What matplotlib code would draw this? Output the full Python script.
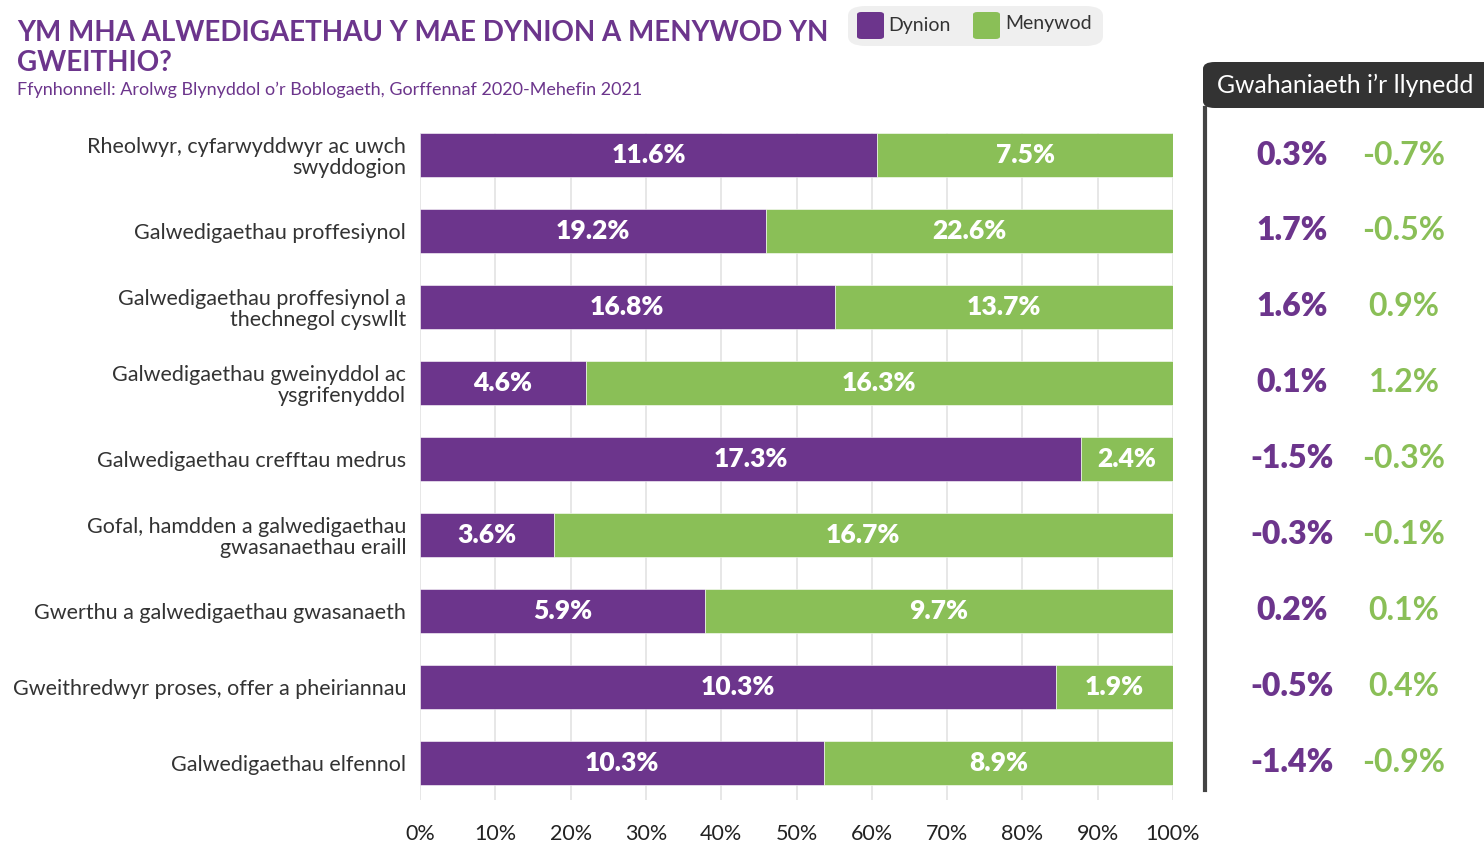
import matplotlib.pyplot as plt
import matplotlib.transforms as mtransforms
from matplotlib.patches import FancyBboxPatch
from matplotlib.lines import Line2D
import numpy as np

plt.rcParams['font.family'] = ['Lato', 'DejaVu Sans']

categories = [
    "Rheolwyr, cyfarwyddwyr ac uwch\nswyddogion",
    "Galwedigaethau proffesiynol",
    "Galwedigaethau proffesiynol a\nthechnegol cyswllt",
    "Galwedigaethau gweinyddol ac\nysgrifenyddol",
    "Galwedigaethau crefftau medrus",
    "Gofal, hamdden a galwedigaethau\ngwasanaethau eraill",
    "Gwerthu a galwedigaethau gwasanaeth",
    "Gweithredwyr proses, offer a pheiriannau",
    "Galwedigaethau elfennol",
]
men = [11.6, 19.2, 16.8, 4.6, 17.3, 3.6, 5.9, 10.3, 10.3]
women = [7.5, 22.6, 13.7, 16.3, 2.4, 16.7, 9.7, 1.9, 8.9]
men_change = [0.3, 1.7, 1.6, 0.1, -1.5, -0.3, 0.2, -0.5, -1.4]
women_change = [-0.7, -0.5, 0.9, 1.2, -0.3, -0.1, 0.1, 0.4, -0.9]

purple = '#6c358c'
green = '#8abf57'
W, H = 1484, 843

fig = plt.figure(figsize=(W / 100, H / 100), dpi=100)
ax = fig.add_axes([420 / W, 1 - 800 / H, (1173 - 420) / W, (800 - 133) / H])

men_a = np.array(men)
women_a = np.array(women)
share_m = men_a / (men_a + women_a) * 100
share_w = 100 - share_m
y = np.arange(len(categories))
bh = 0.58

ax.barh(y, share_m, height=bh, color=purple, edgecolor='white', linewidth=0.4, zorder=3)
ax.barh(y, share_w, left=share_m, height=bh, color=green, edgecolor='white', linewidth=0.4, zorder=3)

for i in range(len(y)):
    ax.text(share_m[i] / 2, y[i], f"{men[i]}%", ha='center', va='center',
            color='white', fontsize=19, fontweight='heavy', zorder=4)
    ax.text(share_m[i] + share_w[i] / 2, y[i], f"{women[i]}%", ha='center', va='center',
            color='white', fontsize=19, fontweight='heavy', zorder=4)

ax.set_xlim(0, 100)
ax.set_ylim(len(categories) - 1 + 0.49, -0.29)
ax.set_xticks(np.arange(0, 101, 10))
ax.set_xticklabels([f"{v}%" for v in range(0, 101, 10)], fontsize=15.5, color='#222222')
ax.set_yticks(y)
ax.set_yticklabels(categories, fontsize=15.5, color='#333333', linespacing=1.05)
ax.tick_params(axis='x', length=0, pad=17)
ax.tick_params(axis='y', length=0, pad=10)
ax.grid(axis='x', color='#e3e3e3', linewidth=1.2, zorder=0)
ax.set_axisbelow(True)
for s in ax.spines.values():
    s.set_visible(False)

# titles
fig.text(17 / W, 1 - 48 / H, "YM MHA ALWEDIGAETHAU Y MAE DYNION A MENYWOD YN\nGWEITHIO?",
         ha='left', va='center', fontsize=20, fontweight='bold', color=purple, linespacing=1.15)
fig.text(17 / W, 1 - 90 / H, "Ffynhonnell: Arolwg Blynyddol o\u2019r Boblogaeth, Gorffennaf 2020-Mehefin 2021",
         ha='left', va='center', fontsize=13, color=purple)

# legend box
fig.patches.append(FancyBboxPatch((848 / W, 1 - 46 / H), 255 / W, 40 / H,
                                  boxstyle='round,pad=0,rounding_size=0.012',
                                  transform=fig.transFigure, facecolor='#efefef',
                                  edgecolor='none'))
fig.patches.append(FancyBboxPatch((857 / W, 1 - 39 / H), 27 / W, 27 / H,
                                  boxstyle='round,pad=0,rounding_size=0.003',
                                  transform=fig.transFigure, facecolor=purple, edgecolor='none'))
fig.patches.append(FancyBboxPatch((973 / W, 1 - 39 / H), 27 / W, 27 / H,
                                  boxstyle='round,pad=0,rounding_size=0.003',
                                  transform=fig.transFigure, facecolor=green, edgecolor='none'))
fig.text(888 / W, 1 - 26 / H, "Dynion", ha='left', va='center', fontsize=14, color='#333333')
fig.text(1005 / W, 1 - 24 / H, "Menywod", ha='left', va='center', fontsize=14, color='#333333')

# right panel header
fig.patches.append(FancyBboxPatch((1203 / W, 1 - 108 / H), 300 / W, 46 / H,
                                  boxstyle='round,pad=0,rounding_size=0.008',
                                  transform=fig.transFigure, facecolor='#333333',
                                  edgecolor='none'))
fig.text(1345 / W, 1 - 85 / H, "Gwahaniaeth i\u2019r llynedd", ha='center', va='center',
         fontsize=17.8, color='white')
fig.lines.append(Line2D([1205 / W, 1205 / W], [1 - 108 / H, 1 - 790 / H],
                        transform=fig.transFigure, color='#444444', linewidth=3))

trans = mtransforms.blended_transform_factory(fig.transFigure, ax.transData)
for i in range(len(y)):
    fig.text(1292 / W, y[i], f"{men_change[i]}%", transform=trans, ha='center', va='center',
             fontsize=23, fontweight='heavy', color=purple)
    fig.text(1404 / W, y[i], f"{women_change[i]}%", transform=trans, ha='center', va='center',
             fontsize=23, fontweight='bold', color=green)

fig.savefig('out.png', dpi=100)
